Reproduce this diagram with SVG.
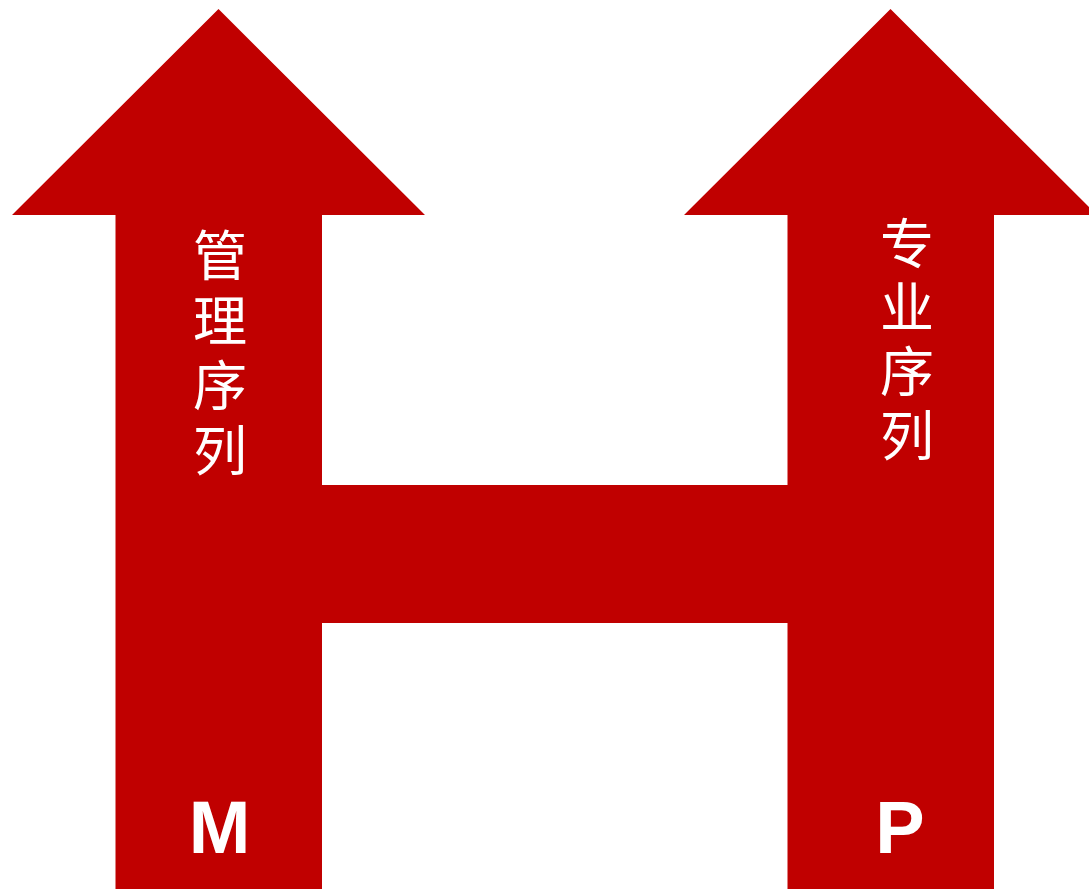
<svg xmlns="http://www.w3.org/2000/svg" width="1089" height="889" viewBox="0 0 1089 889">
<style>
.shape{fill:#C00000;stroke:none}
.cjk{font-family:"Noto Sans CJK SC","Noto Sans CJK JP",sans-serif;font-size:54px;fill:#FFFFFF;writing-mode:vertical-rl;text-orientation:upright}
.lat{font-family:"Liberation Sans",Arial,sans-serif;font-weight:bold;font-size:74px;fill:#FFFFFF;text-anchor:middle}
</style>
<rect width="1089" height="889" fill="#FFFFFF"/>
<g id="crossbar">
<rect class="shape" x="320" y="485" width="470" height="138"/>
</g>
<g id="arrow-management">
<polygon class="shape" points="218.5,9 425,215 322,215 322,889 115.5,889 115.5,215 12,215"/>
<text class="cjk" x="220" y="228" letter-spacing="11">管理序列</text>
<text class="lat" x="219.5" y="853">M</text>
</g>
<g id="arrow-professional">
<polygon class="shape" points="890.5,9 1097,215 994,215 994,889 787.5,889 787.5,215 684,215"/>
<text class="cjk" x="907" y="216" letter-spacing="10">专业序列</text>
<text class="lat" x="900" y="853">P</text>
</g>
</svg>
